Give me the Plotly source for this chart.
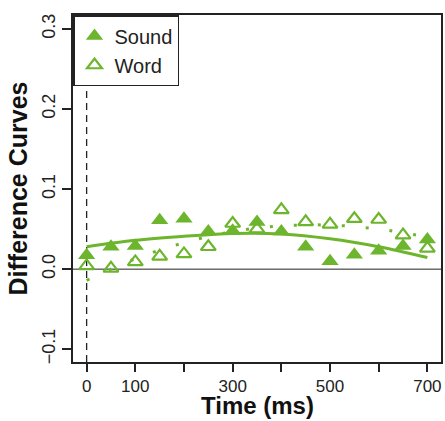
import plotly.graph_objects as go

time = [0, 50, 100, 150, 200, 250, 300, 350, 400, 450, 500, 550, 600, 650, 700]
sound = [0.0175, 0.028, 0.029, 0.061, 0.063, 0.047, 0.048, 0.059, 0.047, 0.028, 0.010, 0.018, 0.023, 0.029, 0.037]
word = [0.004, 0.001, 0.009, 0.016, 0.019, 0.028, 0.057, 0.050, 0.074, 0.059, 0.056, 0.063, 0.062, 0.0425, 0.026]

fit_time = [0, 100, 200, 300, 400, 500, 600, 700]
sound_fit = [0.028, 0.036, 0.041, 0.0446, 0.044, 0.038, 0.028, 0.0146]
word_fit = [-0.014, 0.013, 0.033, 0.047, 0.054, 0.055, 0.050, 0.040]

x_ticks = [0, 100, 200, 300, 400, 500, 600, 700]
x_ticklabels = ["0", "100", "", "300", "", "500", "", "700"]
y_ticks = [-0.1, 0.0, 0.1, 0.2, 0.3]
y_ticklabels = ["\u22120.1", "0.0", "0.1", "0.2", "0.3"]

green = "#6cb52d"
font_family = "Liberation Sans, Arial, sans-serif"

fig = go.Figure()

fig.add_trace(go.Scatter(x=fit_time, y=sound_fit, mode="lines", line=dict(color=green, width=3, shape="spline"),
                         showlegend=False, hoverinfo="skip"))
fig.add_trace(go.Scatter(x=fit_time, y=word_fit, mode="lines",
                         line=dict(color=green, width=3, shape="spline", dash="3px,21px"),
                         showlegend=False, hoverinfo="skip"))
fig.add_trace(go.Scatter(x=time, y=sound, mode="markers", name="Sound",
                         marker=dict(symbol="triangle-up", size=15, color=green, line=dict(width=0))))
fig.add_trace(go.Scatter(x=time, y=word, mode="markers", name="Word",
                         marker=dict(symbol="triangle-up-open", size=13, color=green, line=dict(width=2.2, color=green))))

fig.add_shape(type="line", xref="paper", yref="y", x0=0, x1=1, y0=0, y1=0,
              line=dict(color="#222", width=1), layer="below")
fig.add_shape(type="line", xref="x", yref="paper", x0=0, x1=0, y0=0, y1=1,
              line=dict(color="#222", width=1.3, dash="7px,5px"), layer="below")

fig.add_annotation(text="<b>Time (ms)</b>", xref="paper", yref="paper", x=0.5, y=0,
                   xanchor="center", yanchor="bottom", yshift=-58, showarrow=False,
                   borderpad=0, font=dict(size=24, family=font_family, color="#111"))

fig.update_layout(
    width=445, height=421,
    margin=dict(l=73, r=4, t=15, b=59),
    paper_bgcolor="white", plot_bgcolor="white",
    font=dict(family=font_family, color="#222", size=18),
    legend=dict(x=0, y=1, xanchor="left", yanchor="top", bgcolor="white",
                bordercolor="#222", borderwidth=1.5, font=dict(size=20, family=font_family),
                tracegroupgap=0, itemwidth=30),
    xaxis=dict(range=[-28, 728], tickvals=x_ticks, ticktext=x_ticklabels, ticks="outside",
               ticklen=8, tickwidth=1.5, tickcolor="#222", showgrid=False, zeroline=False,
               showline=True, linecolor="#222", linewidth=2, mirror=True, automargin=False,
               tickfont=dict(size=17)),
    yaxis=dict(range=[-0.116, 0.3175], tickvals=y_ticks, ticktext=y_ticklabels, ticks="outside",
               ticklen=9, tickwidth=1.5, tickcolor="#222", showgrid=False, zeroline=False,
               showline=True, linecolor="#222", linewidth=2, mirror=True, tickangle=-90,
               automargin=False, tickfont=dict(size=18),
               title=dict(text="<b>Difference Curves</b>", font=dict(size=25, color="#111"), standoff=4)),
)

fig.write_html("out.html", config={"displayModeBar": False},
               post_script="document.body.style.margin='0';")
